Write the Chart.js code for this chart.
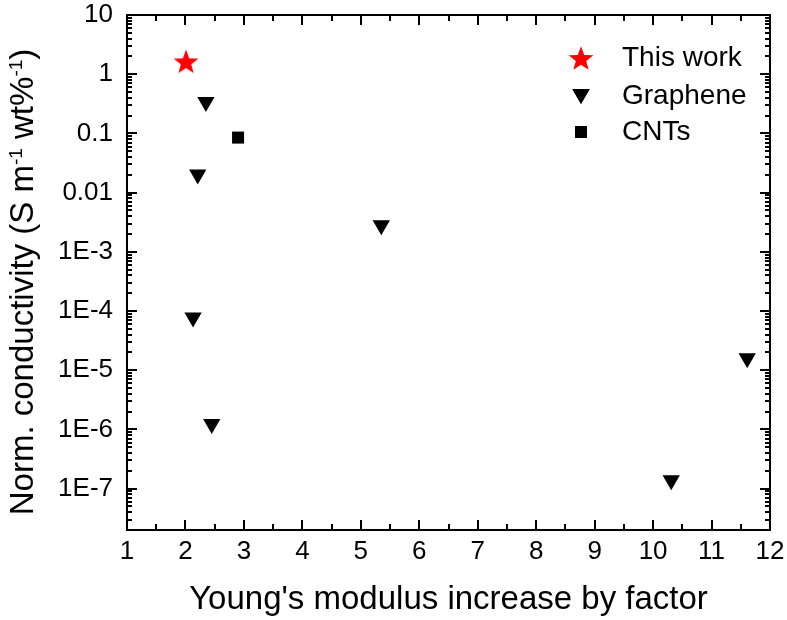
<!DOCTYPE html>
<html lang="en">
<head>
    <meta charset="UTF-8">
    <title>Norm. conductivity vs Young's modulus increase</title>
    <script src="https://cdn.jsdelivr.net/npm/chart.js"></script>
    <style>
        html, body {
            margin: 0;
            padding: 0;
            background: white;
        }
        .wrapper {
            width: 787px;
            height: 620px;
        }
    </style>
</head>
<body>
    <div class="wrapper">
        <canvas id="modulusChart" width="787" height="620"></canvas>
    </div>

    <script>
        // data
        const thisWorkX = [2.01];
        const thisWorkY = [1.65];
        const grapheneX = [2.35, 2.21, 5.35, 2.13, 2.45, 10.31, 11.61];
        const grapheneY = [0.34, 0.0203, 0.0028, 7.8e-5, 1.23e-6, 1.39e-7, 1.6e-5];
        const cntX = [2.90];
        const cntY = [0.085];
        const seriesNames = ['This work', 'Graphene', 'CNTs'];
        const xTicks = [1, 2, 3, 4, 5, 6, 7, 8, 9, 10, 11, 12];
        const yTicks = [1e-7, 1e-6, 1e-5, 1e-4, 1e-3, 0.01, 0.1, 1, 10];
        const yTickLabels = ['1E-7', '1E-6', '1E-5', '1E-4', '1E-3', '0.01', '0.1', '1', '10'];

        const FONT = 'Arial, "Liberation Sans", sans-serif';

        // filled five point star for "This work"
        function makeStar(r, color) {
            const size = Math.ceil(r * 2 + 4);
            const c = document.createElement('canvas');
            c.width = size;
            c.height = size;
            const g = c.getContext('2d');
            const cx = size / 2, cy = size / 2 + r * 0.1;
            g.beginPath();
            for (let i = 0; i < 10; i++) {
                const rad = i % 2 === 0 ? r : r * 0.42;
                const a = -Math.PI / 2 + i * Math.PI / 5;
                g.lineTo(cx + rad * Math.cos(a), cy + rad * Math.sin(a));
            }
            g.closePath();
            g.fillStyle = color;
            g.fill();
            return c;
        }
        const starImg = makeStar(13, '#ff0000');

        const toPoints = (xs, ys) => xs.map((x, i) => ({ x: x, y: ys[i] }));

        const markers = [
            { pointStyle: starImg, radius: 13, rotation: 0, color: '#ff0000' },
            { pointStyle: 'triangle', radius: 10, rotation: 180, color: '#000000' },
            { pointStyle: 'rect', radius: 8.5, rotation: 0, color: '#000000' }
        ];

        // frame, inward ticks, y title and legend
        const framePlugin = {
            id: 'frame',
            afterDraw(chart) {
                const ctx = chart.ctx;
                const area = chart.chartArea;
                const xs = chart.scales.x;
                const ys = chart.scales.y;
                ctx.save();
                ctx.strokeStyle = '#000';
                ctx.lineWidth = 2;

                const tick = (x1, y1, x2, y2) => {
                    ctx.beginPath();
                    ctx.moveTo(x1, y1);
                    ctx.lineTo(x2, y2);
                    ctx.stroke();
                };

                // x ticks
                for (let v = 1; v <= 12; v += 0.5) {
                    const px = Math.round(xs.getPixelForValue(v));
                    const len = Number.isInteger(v) ? 10 : 6;
                    tick(px, area.bottom, px, area.bottom - len);
                    tick(px, area.top, px, area.top + len);
                }
                // y ticks, decades + minors
                for (let e = -8; e <= 1; e++) {
                    for (let m = 1; m <= 9; m++) {
                        const v = m * Math.pow(10, e);
                        if (v < ys.min || v > ys.max) continue;
                        const py = Math.round(ys.getPixelForValue(v));
                        const len = m === 1 ? 10 : 5;
                        tick(area.left, py, area.left + len, py);
                        tick(area.right, py, area.right - len, py);
                    }
                }
                ctx.strokeRect(area.left, area.top, area.right - area.left, area.bottom - area.top);

                // y axis title with superscripts
                ctx.fillStyle = '#000';
                ctx.translate(33, 282);
                ctx.rotate(-Math.PI / 2);
                const parts = [
                    ['Norm. conductivity (S m', false],
                    ['-1', true],
                    [' wt%', false],
                    ['-1', true],
                    [')', false]
                ];
                const big = '33px ' + FONT;
                const small = '19px ' + FONT;
                let total = 0;
                parts.forEach(p => {
                    ctx.font = p[1] ? small : big;
                    total += ctx.measureText(p[0]).width;
                });
                let cx = -total / 2;
                ctx.textBaseline = 'alphabetic';
                parts.forEach(p => {
                    ctx.font = p[1] ? small : big;
                    ctx.fillText(p[0], cx, p[1] ? -11 : 0);
                    cx += ctx.measureText(p[0]).width;
                });
                ctx.restore();

                // legend inside plot
                ctx.save();
                const legendY = [58, 96, 132];
                chart.data.datasets.forEach((ds, i) => {
                    const mk = markers[i];
                    Chart.helpers.drawPoint(ctx, {
                        pointStyle: mk.pointStyle,
                        radius: mk.radius,
                        rotation: mk.rotation,
                        borderWidth: 0
                    }, 581, legendY[i] + (i === 1 ? -2 : 0));
                    ctx.fillStyle = mk.color;
                    ctx.fill();
                    ctx.fillStyle = '#000';
                    ctx.font = '28px ' + FONT;
                    ctx.textBaseline = 'middle';
                    ctx.fillText(ds.label, 622, legendY[i]);
                });
                ctx.restore();
            }
        };

        const ctx = document.getElementById('modulusChart').getContext('2d');
        const modulusChart = new Chart(ctx, {
            type: 'scatter',
            data: {
                datasets: [
                    { label: seriesNames[0], data: toPoints(thisWorkX, thisWorkY) },
                    { label: seriesNames[1], data: toPoints(grapheneX, grapheneY) },
                    { label: seriesNames[2], data: toPoints(cntX, cntY) }
                ].map((ds, i) => Object.assign(ds, {
                    pointStyle: markers[i].pointStyle,
                    pointRadius: markers[i].radius,
                    pointHoverRadius: markers[i].radius,
                    rotation: markers[i].rotation,
                    backgroundColor: markers[i].color,
                    borderColor: markers[i].color,
                    borderWidth: 0
                }))
            },
            options: {
                responsive: false,
                animation: false,
                layout: {
                    padding: { left: 0, top: 15, right: 17, bottom: 0 }
                },
                scales: {
                    x: {
                        type: 'linear',
                        min: 1,
                        max: 12,
                        afterBuildTicks: scale => {
                            scale.ticks = xTicks.map(v => ({ value: v }));
                        },
                        afterFit: scale => {
                            scale.height = 90;
                            scale.paddingLeft = 0;
                            scale.paddingRight = 0;
                        },
                        grid: { display: false, drawTicks: false },
                        border: { display: false },
                        ticks: {
                            color: '#000',
                            padding: 6,
                            autoSkip: false,
                            maxRotation: 0,
                            font: { family: FONT, size: 26 },
                            callback: v => String(v)
                        },
                        title: {
                            display: true,
                            text: "Young's modulus increase by factor",
                            color: '#000',
                            padding: { top: 0, bottom: 0 },
                            font: { family: FONT, size: 33 }
                        }
                    },
                    y: {
                        type: 'logarithmic',
                        min: 2e-8,
                        max: 10,
                        afterBuildTicks: scale => {
                            scale.ticks = yTicks.map(v => ({ value: v, major: true }));
                        },
                        afterFit: scale => {
                            scale.width = 127;
                            scale.paddingTop = 0;
                            scale.paddingBottom = 0;
                        },
                        grid: { display: false, drawTicks: false },
                        border: { display: false },
                        ticks: {
                            color: '#000',
                            padding: 14,
                            autoSkip: false,
                            font: { family: FONT, size: 26 },
                            callback: v => {
                                const i = yTicks.findIndex(t => Math.abs(Math.log10(t) - Math.log10(v)) < 1e-6);
                                return i >= 0 ? yTickLabels[i] : '';
                            }
                        }
                    }
                },
                plugins: {
                    legend: { display: false },
                    tooltip: { enabled: false }
                }
            },
            plugins: [framePlugin]
        });
    </script>
</body>
</html>
